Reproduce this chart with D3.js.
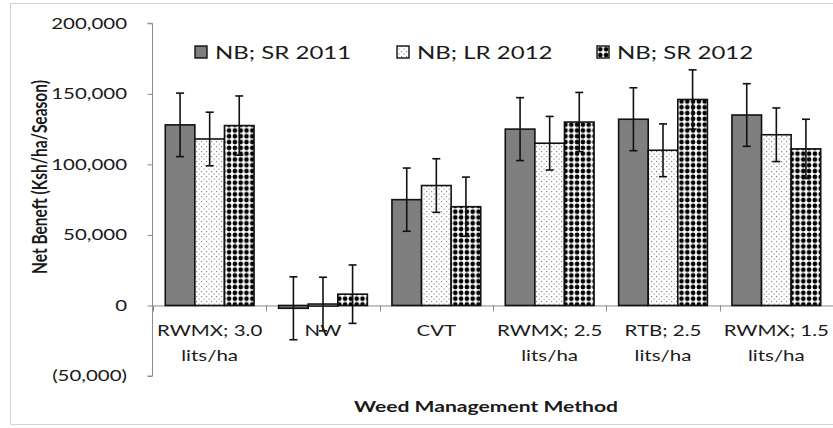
<!DOCTYPE html>
<html>
<head>
<meta charset="utf-8">
<script src="https://cdn.jsdelivr.net/npm/d3@7"></script>
<style>
  html, body { margin: 0; padding: 0; background: #fff; overflow: hidden; }
  svg { display: block; }
  text { font-family: Lato, "Open Sans", sans-serif; fill: #1a1a1a; }
</style>
</head>
<body>
<svg id="chart" width="833" height="428"></svg>
<script>
// ---- data ----
const categories = ["RWMX; 3.0\nlits/ha", "NW", "CVT", "RWMX; 2.5\nlits/ha", "RTB; 2.5\nlits/ha", "RWMX; 1.5\nlits/ha"];
const seriesNames = ["NB; SR 2011", "NB; LR 2012", "NB; SR 2012"];
const sr2011 = [128000, -2000, 75000, 125000, 132000, 135000];
const lr2012 = [118000, 1000, 85000, 115000, 110000, 121000];
const sr2012 = [127500, 8000, 70000, 130000, 146000, 111000];
const errSr2011 = [22500, 22300, 22400, 22300, 22300, 22200];
const errLr2012 = [19000, 19000, 19000, 19000, 18700, 19000];
const errSr2012 = [21000, 20700, 21000, 21000, 21000, 21000];
const yTicks = [-50000, 0, 50000, 100000, 150000, 200000];
const yTitle = "Net Beneft (Ksh/ha/Season)";
const xTitle = "Weed Management Method";

const seriesValues = [sr2011, lr2012, sr2012];
const seriesErrors = [errSr2011, errLr2012, errSr2012];

// ---- layout ----
const SX = 1.32;   // horizontal stretch of the reference's text
const svg = d3.select("#chart");
const plot = { left: 153, right: 833, top: 23.3, bottom: 376 };

const y = d3.scaleLinear().domain([-50000, 200000]).range([plot.bottom, plot.top]);
const x0 = d3.scaleBand().domain(d3.range(categories.length)).range([plot.left, plot.right]).padding(0);
const x1 = d3.scaleBand().domain(d3.range(seriesNames.length)).range([0, x0.bandwidth()])
  .paddingInner(0).paddingOuter(0.415);

// ---- patterns ----
const defs = svg.append("defs");
const pDots = defs.append("pattern").attr("id", "pDots").attr("patternUnits", "userSpaceOnUse")
  .attr("width", 5).attr("height", 5);
pDots.append("rect").attr("width", 5).attr("height", 5).attr("fill", "#fff");
pDots.append("rect").attr("x", 1).attr("y", 1).attr("width", 1.2).attr("height", 1.2).attr("fill", "#8a8a8a");
pDots.append("rect").attr("x", 3.5).attr("y", 3.5).attr("width", 1.2).attr("height", 1.2).attr("fill", "#a0a0a0");

const pCheck = defs.append("pattern").attr("id", "pCheck").attr("patternUnits", "userSpaceOnUse")
  .attr("width", 5.8).attr("height", 5.8);
pCheck.append("rect").attr("width", 5.8).attr("height", 5.8).attr("fill", "#fff");
pCheck.append("circle").attr("cx", 2.9).attr("cy", 2.9).attr("r", 2.35).attr("fill", "#000");

const fills = ["#7f7f7f", "url(#pDots)", "url(#pCheck)"];

// ---- frame ----
svg.append("path").attr("d", "M840,3.5H10.5V424.5H840")
  .attr("fill", "none").attr("stroke", "#d4d4d4").attr("stroke-width", 1);

// ---- y axis ----
const fmt = v => v < 0 ? "(" + d3.format(",")(-v) + ")" : d3.format(",")(v);
const yAxis = svg.append("g").attr("transform", `translate(${plot.left - 0.5},0)`)
  .call(d3.axisLeft(y).tickValues(yTicks).tickSize(5).tickFormat(""));
yAxis.selectAll("path, line").attr("stroke", "#8c8c8c");
yAxis.select(".domain").attr("d", `M-5,${y(-50000)}H0V${y(200000)}H-5`);

yTicks.forEach(v => {
  svg.append("text")
    .attr("transform", `translate(127,${y(v)}) scale(${SX},1)`)
    .attr("text-anchor", "end").attr("dy", "0.35em")
    .attr("font-size", 15.5).text(fmt(v));
});

// ---- x axis at zero ----
const xg = svg.append("g");
xg.append("line").attr("x1", plot.left).attr("x2", plot.right)
  .attr("y1", y(0) + 0.5).attr("y2", y(0) + 0.5).attr("stroke", "#8c8c8c");
d3.range(categories.length).forEach(i => {
  const xx = Math.round(plot.left + i * x0.step()) + 0.5;
  xg.append("line").attr("x1", xx).attr("x2", xx).attr("y1", y(0)).attr("y2", y(0) + 6)
    .attr("stroke", "#8c8c8c");
});

// ---- bars ----
seriesValues.forEach((vals, s) => {
  svg.append("g").selectAll("rect").data(vals).join("rect")
    .attr("x", (d, i) => x0(i) + x1(s))
    .attr("width", x1.bandwidth())
    .attr("y", d => y(Math.max(0, d)))
    .attr("height", d => Math.max(2, Math.abs(y(d) - y(0))))
    .attr("fill", fills[s])
    .attr("stroke", "#111").attr("stroke-width", 1.6);
});

// ---- error bars ----
seriesValues.forEach((vals, s) => {
  const g = svg.append("g").attr("stroke", "#111").attr("stroke-width", 1.6);
  vals.forEach((v, i) => {
    const cx = x0(i) + x1(s) + x1.bandwidth() / 2;
    const e = seriesErrors[s][i];
    g.append("line").attr("x1", cx).attr("x2", cx).attr("y1", y(v + e)).attr("y2", y(v - e));
    [v + e, v - e].forEach(t => {
      g.append("line").attr("x1", cx - 4).attr("x2", cx + 4).attr("y1", y(t)).attr("y2", y(t));
    });
  });
});

// ---- category labels ----
categories.forEach((c, i) => {
  const cx = x0(i) + x0.bandwidth() / 2;
  c.split("\n").forEach((line, k) => {
    svg.append("text")
      .attr("transform", `translate(${cx},${336 + k * 25}) scale(${SX},1)`)
      .attr("text-anchor", "middle").attr("font-size", 15.5).text(line);
  });
});

// ---- axis titles ----
svg.append("text")
  .attr("transform", `translate(486,412) scale(${SX},1)`)
  .attr("text-anchor", "middle").attr("font-size", 16).attr("font-weight", "bold")
  .text(xTitle);
svg.append("text")
  .attr("transform", `translate(47,177) scale(${SX},1) rotate(-90)`)
  .attr("text-anchor", "middle").attr("font-size", 15.5).attr("font-weight", "bold")
  .text(yTitle);

// ---- legend ----
const legendX = [195, 397, 597];
seriesNames.forEach((n, s) => {
  svg.append("rect").attr("x", legendX[s]).attr("y", 46).attr("width", 12).attr("height", 12)
    .attr("fill", fills[s]).attr("stroke", "#111").attr("stroke-width", 1.4);
  svg.append("text")
    .attr("transform", `translate(${legendX[s] + 20},59) scale(${SX},1)`)
    .attr("font-size", 18.2).text(n);
});
</script>
</body>
</html>
